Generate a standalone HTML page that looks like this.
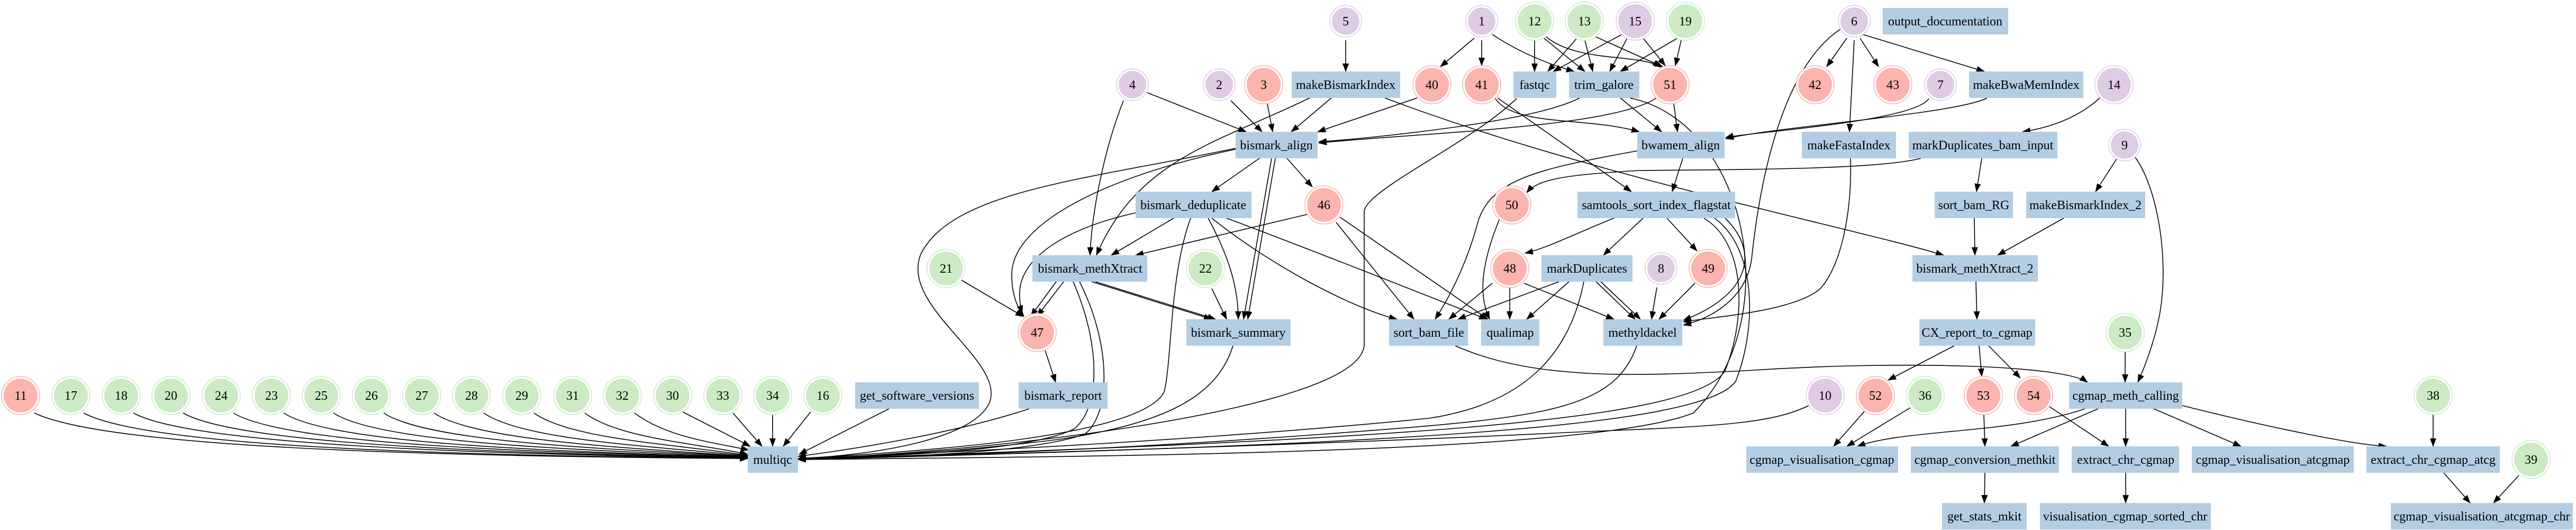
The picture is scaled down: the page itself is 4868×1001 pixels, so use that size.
<!DOCTYPE html>
<html><head><meta charset="utf-8"><style>html,body{margin:0;padding:0;background:#fff}svg{display:block}</style></head>
<body>
<svg width="4868" height="1001" viewBox="0 0 4868 1001" xmlns="http://www.w3.org/2000/svg" font-family="'Liberation Serif', serif" font-size="24">
<defs>
<marker id="a" markerUnits="userSpaceOnUse" markerWidth="16" markerHeight="12" refX="15" refY="6" orient="auto"><path d="M0,0 L16,6 L0,12 z" fill="#000"/></marker>
</defs>
<g fill="none" stroke="#000" stroke-width="1.6" marker-end="url(#a)">
<!-- left circles to multiqc -->
<path d="M65 780 C200 845 800 862 1413 866"/>
<path d="M158 780 C280 845 850 860 1413 866"/>
<path d="M252 780 C360 840 900 858 1413 865"/>
<path d="M346 780 C450 840 950 856 1413 865"/>
<path d="M441 780 C540 840 1000 854 1413 864"/>
<path d="M536 780 C630 840 1050 852 1413 864"/>
<path d="M630 780 C720 838 1100 850 1413 863"/>
<path d="M725 780 C810 836 1150 848 1413 862"/>
<path d="M820 780 C900 834 1200 846 1413 862"/>
<path d="M914 780 C990 832 1230 842 1413 861"/>
<path d="M1009 780 C1080 830 1270 838 1413 860"/>
<path d="M1105 780 C1170 828 1310 836 1413 858"/>
<path d="M1199 780 C1260 826 1350 836 1415 850"/>
<path d="M1290 778 L1418 843"/>
<path d="M1385 780 L1440 843"/>
<path d="M1460 783 L1460 843"/>
<path d="M1532 778 L1480 843"/>
<!-- top -->
<path d="M2543 76 L2543 135"/>
<path d="M2786 72 L2722 126"/>
<path d="M2800 76 L2800 124"/>
<path d="M2820 65 C2880 105 2940 125 2975 135"/>
<path d="M2900 76 L2900 135"/>
<path d="M2915 70 L2995 135"/>
<path d="M2920 68 C2980 120 3100 100 3138 127"/>
<path d="M2980 72 L2925 135"/>
<path d="M2995 76 L3010 135"/>
<path d="M3012 68 L3142 126"/>
<path d="M3065 65 L2935 135"/>
<path d="M3075 72 L3042 135"/>
<path d="M3105 72 L3147 124"/>
<path d="M3170 72 L3062 135"/>
<path d="M3177 76 L3166 124"/>
<path d="M3490 72 L3452 126"/>
<path d="M3515 72 L3550 126"/>
<path d="M3504 76 L3495 249"/>
<path d="M3520 65 L3750 135"/>
<!-- row1 -> row2 -->
<path d="M2168 175 L2355 249"/>
<path d="M2123 190 C2080 300 2062 420 2060 482"/>
<path d="M2326 190 L2385 249"/>
<path d="M2395 196 L2405 249"/>
<path d="M2516 185 L2440 249"/>
<path d="M2475 185 C2300 270 2150 300 2072 482"/>
<path d="M2617 185 C3000 330 3500 430 3673 482"/>
<path d="M2678 185 L2490 249"/>
<path d="M2985 185 C2900 230 2600 260 2492 268"/>
<path d="M3130 185 C3050 240 2700 250 2492 270"/>
<path d="M2825 185 C2860 240 3000 220 3098 249"/>
<path d="M2830 185 L3083 362"/>
<path d="M3062 185 L3140 249"/>
<path d="M3163 196 L3170 249"/>
<path d="M2866 186 C2780 270 2578 360 2578 400 L2578 650 C2578 780 1800 860 1508 866"/>
<path d="M3080 185 C3300 230 3380 600 3200 780 C3000 860 2000 862 1508 868"/>
<path d="M3478 55 C3380 120 3330 300 3310 490 C3300 560 3240 600 3181 614"/>
<path d="M3645 186 C3620 230 3300 250 3261 260"/>
<path d="M3755 185 C3700 215 3350 240 3261 262"/>
<path d="M3968 185 C3930 220 3880 240 3822 249"/>
<path d="M3497 299 C3500 400 3480 500 3440 545 C3390 590 3220 600 3181 608"/>
<path d="M3745 299 L3735 362"/>
<path d="M3630 299 C3550 320 3300 320 3100 322 C2950 330 2905 340 2885 364"/>
<path d="M4000 300 L3960 362"/>
<path d="M4035 297 C4080 360 4100 500 4080 600 C4070 650 4050 700 4040 722"/>
<path d="M3731 412 L3732 482"/>
<path d="M3900 412 L3775 482"/>
<path d="M3734 532 L3736 603"/>
<path d="M3693 653 L3568 718"/>
<path d="M3740 653 L3745 711"/>
<path d="M3758 653 L3818 714"/>
<path d="M4016 664 L4016 722"/>
<path d="M2750 653 C2900 720 3100 710 3300 700 C3600 680 3900 690 3945 722"/>
<!-- bismark side -->
<path d="M2380 299 L2290 362"/>
<path d="M2432 299 L2480 353"/>
<path d="M2403 299 L2350 603"/>
<path d="M2410 299 L2358 603"/>
<path d="M2335 282 C2100 330 1910 420 1912 520 C1912 560 1925 585 1935 597"/>
<path d="M2335 280 C2050 340 1800 360 1740 480 C1700 580 1900 680 1870 760 C1840 830 1650 860 1508 866"/>
<path d="M3180 299 L3160 362"/>
<path d="M3094 285 C2900 320 2810 340 2790 430 C2770 500 2740 560 2712 603"/>
<path d="M2218 412 L2100 482"/>
<path d="M2146 402 C2020 430 1940 480 1928 540 C1925 560 1928 580 1932 592"/>
<path d="M2283 412 C2320 480 2340 540 2340 603"/>
<path d="M2290 412 C2400 500 2550 580 2640 603"/>
<path d="M2318 412 C2500 480 2700 560 2810 603"/>
<path d="M2250 412 C2210 520 2215 680 2200 740 C2160 820 1800 850 1508 866"/>
<path d="M2470 405 L2146 482"/>
<path d="M2525 420 L2672 603"/>
<path d="M2532 410 L2812 603"/>
<path d="M2834 413 C2790 520 2800 570 2815 603"/>
<path d="M3050 412 C2980 440 2920 470 2882 478"/>
<path d="M3105 412 L3030 482"/>
<path d="M3150 412 L3207 474"/>
<path d="M3220 412 C3300 460 3300 600 3260 700 C3200 800 2600 830 1508 868"/>
<path d="M3240 412 C3320 470 3320 620 3280 720 C3220 810 2600 840 1508 868"/>
<path d="M3260 412 C3330 480 3300 560 3181 605"/>
<path d="M1810 525 L1934 598"/>
<path d="M1996 532 L1948 597"/>
<path d="M2010 532 L1960 597"/>
<path d="M2063 532 L2290 603"/>
<path d="M2070 532 L2297 603"/>
<path d="M2028 532 C2080 650 2080 770 2030 810 C1950 850 1700 862 1508 866"/>
<path d="M2040 532 C2100 650 2100 780 2050 820 C1950 855 1700 864 1508 867"/>
<path d="M2290 545 L2318 603"/>
<path d="M2820 535 L2738 603"/>
<path d="M2853 543 L2853 603"/>
<path d="M2880 535 L3050 603"/>
<path d="M2946 532 L2755 603"/>
<path d="M2965 532 L2885 603"/>
<path d="M3016 532 L3090 603"/>
<path d="M3025 532 L3100 603"/>
<path d="M2993 532 C2970 650 2900 760 2700 790 C2300 830 1800 855 1508 866"/>
<path d="M3131 543 L3121 603"/>
<path d="M3203 535 L3135 603"/>
<path d="M1975 662 L1995 722"/>
<path d="M2330 653 C2300 750 2200 800 2000 830 C1800 855 1600 864 1508 866"/>
<path d="M3093 653 C3050 780 2900 790 2500 820 C2100 850 1700 864 1508 867"/>
<path d="M1945 772 C1800 820 1600 850 1508 862"/>
<path d="M1680 772 L1510 858"/>
<path d="M3420 765 C3350 800 3250 805 3000 815 C2500 840 1800 860 1508 868"/>
<!-- cgmap -->
<path d="M3525 775 L3465 843"/>
<path d="M3610 770 L3490 843"/>
<path d="M3749 783 L3751 843"/>
<path d="M3873 768 L3985 843"/>
<path d="M3940 772 C3800 820 3600 810 3510 843"/>
<path d="M3965 772 L3800 843"/>
<path d="M4017 772 L4017 843"/>
<path d="M4070 772 L4235 843"/>
<path d="M4124 766 C4300 810 4450 840 4510 843"/>
<path d="M4598 783 L4598 843"/>
<path d="M3751 893 L3750 950"/>
<path d="M4017 893 L4017 950"/>
<path d="M4618 893 L4668 950"/>
<path d="M4760 898 L4712 950"/>
</g>

<!-- boxes -->
<g fill="#b3cde3">
<rect x="1413" y="843" width="95" height="50"/>
<rect x="3558" y="15" width="237" height="50"/>
<rect x="2441" y="135" width="205" height="50"/>
<rect x="2860" y="135" width="81" height="50"/>
<rect x="2965" y="135" width="133" height="50"/>
<rect x="3721" y="135" width="216" height="50"/>
<rect x="2335" y="249" width="155" height="50"/>
<rect x="3094" y="249" width="165" height="50"/>
<rect x="3405" y="249" width="178" height="50"/>
<rect x="3607" y="249" width="281" height="50"/>
<rect x="2146" y="362" width="219" height="50"/>
<rect x="2981" y="362" width="298" height="50"/>
<rect x="3656" y="362" width="148" height="50"/>
<rect x="3829" y="362" width="225" height="50"/>
<rect x="1951" y="482" width="217" height="50"/>
<rect x="2913" y="482" width="172" height="50"/>
<rect x="3614" y="482" width="237" height="50"/>
<rect x="2242" y="603" width="197" height="50"/>
<rect x="2625" y="603" width="149" height="50"/>
<rect x="2799" y="603" width="110" height="50"/>
<rect x="3030" y="603" width="149" height="50"/>
<rect x="3627" y="603" width="219" height="50"/>
<rect x="1616" y="722" width="234" height="50"/>
<rect x="1925" y="722" width="168" height="50"/>
<rect x="3910" y="722" width="214" height="50"/>
<rect x="3300" y="843" width="287" height="50"/>
<rect x="3611" y="843" width="280" height="50"/>
<rect x="3915" y="843" width="203" height="50"/>
<rect x="4142" y="843" width="306" height="50"/>
<rect x="4472" y="843" width="252" height="50"/>
<rect x="3670" y="950" width="160" height="50"/>
<rect x="3855" y="950" width="323" height="50"/>
<rect x="4518" y="950" width="344" height="50"/>
</g>
<g text-anchor="middle" fill="#000">
<text x="1460" y="876">multiqc</text>
<text x="3676" y="48">output_documentation</text>
<text x="2543" y="168">makeBismarkIndex</text>
<text x="2900" y="168">fastqc</text>
<text x="3031" y="168">trim_galore</text>
<text x="3829" y="168">makeBwaMemIndex</text>
<text x="2412" y="282">bismark_align</text>
<text x="3176" y="282">bwamem_align</text>
<text x="3494" y="282">makeFastaIndex</text>
<text x="3747" y="282">markDuplicates_bam_input</text>
<text x="2255" y="395">bismark_deduplicate</text>
<text x="3130" y="395">samtools_sort_index_flagstat</text>
<text x="3730" y="395">sort_bam_RG</text>
<text x="3941" y="395">makeBismarkIndex_2</text>
<text x="2060" y="515">bismark_methXtract</text>
<text x="2999" y="515">markDuplicates</text>
<text x="3732" y="515">bismark_methXtract_2</text>
<text x="2340" y="636">bismark_summary</text>
<text x="2700" y="636">sort_bam_file</text>
<text x="2854" y="636">qualimap</text>
<text x="3104" y="636">methyldackel</text>
<text x="3736" y="636">CX_report_to_cgmap</text>
<text x="1733" y="755">get_software_versions</text>
<text x="2009" y="755">bismark_report</text>
<text x="4017" y="755">cgmap_meth_calling</text>
<text x="3443" y="876">cgmap_visualisation_cgmap</text>
<text x="3751" y="876">cgmap_conversion_methkit</text>
<text x="4017" y="876">extract_chr_cgmap</text>
<text x="4295" y="876">cgmap_visualisation_atcgmap</text>
<text x="4598" y="876">extract_chr_cgmap_atcg</text>
<text x="3750" y="983">get_stats_mkit</text>
<text x="4016" y="983">visualisation_cgmap_sorted_chr</text>
<text x="4690" y="983">cgmap_visualisation_atcgmap_chr</text>
</g>

<!-- circles -->
<g stroke-width="1.5">
<g fill="#fff" stroke="#fbb4ae">
<circle cx="39" cy="747" r="36"/><circle cx="2388" cy="160" r="36"/><circle cx="2706" cy="160" r="36"/><circle cx="2800" cy="160" r="36"/><circle cx="3156" cy="160" r="36"/><circle cx="3430" cy="160" r="36"/><circle cx="3577" cy="160" r="36"/><circle cx="2502" cy="387" r="36"/><circle cx="2857" cy="387" r="36"/><circle cx="2853" cy="507" r="36"/><circle cx="3228" cy="507" r="36"/><circle cx="1960" cy="628" r="36"/><circle cx="3544" cy="747" r="36"/><circle cx="3748" cy="747" r="36"/><circle cx="3843" cy="747" r="36"/>
</g>
<g fill="#fbb4ae" stroke="none">
<circle cx="39" cy="747" r="32"/><circle cx="2388" cy="160" r="32"/><circle cx="2706" cy="160" r="32"/><circle cx="2800" cy="160" r="32"/><circle cx="3156" cy="160" r="32"/><circle cx="3430" cy="160" r="32"/><circle cx="3577" cy="160" r="32"/><circle cx="2502" cy="387" r="32"/><circle cx="2857" cy="387" r="32"/><circle cx="2853" cy="507" r="32"/><circle cx="3228" cy="507" r="32"/><circle cx="1960" cy="628" r="32"/><circle cx="3544" cy="747" r="32"/><circle cx="3748" cy="747" r="32"/><circle cx="3843" cy="747" r="32"/>
</g>
<g fill="#fff" stroke="#ccebc5">
<circle cx="134" cy="747" r="36"/><circle cx="229" cy="747" r="36"/><circle cx="323" cy="747" r="36"/><circle cx="418" cy="747" r="36"/><circle cx="513" cy="747" r="36"/><circle cx="607" cy="747" r="36"/><circle cx="702" cy="747" r="36"/><circle cx="797" cy="747" r="36"/><circle cx="891" cy="747" r="36"/><circle cx="986" cy="747" r="36"/><circle cx="1082" cy="747" r="36"/><circle cx="1176" cy="747" r="36"/><circle cx="1271" cy="747" r="36"/><circle cx="1366" cy="747" r="36"/><circle cx="1460" cy="747" r="36"/><circle cx="1555" cy="747" r="36"/>
<circle cx="2900" cy="40" r="36"/><circle cx="2994" cy="40" r="36"/><circle cx="3185" cy="40" r="36"/><circle cx="1788" cy="507" r="36"/><circle cx="2278" cy="507" r="36"/><circle cx="4016" cy="628" r="36"/><circle cx="3638" cy="747" r="36"/><circle cx="4598" cy="747" r="36"/><circle cx="4783" cy="868" r="36"/>
</g>
<g fill="#ccebc5" stroke="none">
<circle cx="134" cy="747" r="32"/><circle cx="229" cy="747" r="32"/><circle cx="323" cy="747" r="32"/><circle cx="418" cy="747" r="32"/><circle cx="513" cy="747" r="32"/><circle cx="607" cy="747" r="32"/><circle cx="702" cy="747" r="32"/><circle cx="797" cy="747" r="32"/><circle cx="891" cy="747" r="32"/><circle cx="986" cy="747" r="32"/><circle cx="1082" cy="747" r="32"/><circle cx="1176" cy="747" r="32"/><circle cx="1271" cy="747" r="32"/><circle cx="1366" cy="747" r="32"/><circle cx="1460" cy="747" r="32"/><circle cx="1555" cy="747" r="32"/>
<circle cx="2900" cy="40" r="32"/><circle cx="2994" cy="40" r="32"/><circle cx="3185" cy="40" r="32"/><circle cx="1788" cy="507" r="32"/><circle cx="2278" cy="507" r="32"/><circle cx="4016" cy="628" r="32"/><circle cx="3638" cy="747" r="32"/><circle cx="4598" cy="747" r="32"/><circle cx="4783" cy="868" r="32"/>
</g>
<g fill="#fff" stroke="#decbe4">
<circle cx="2543" cy="40" r="30"/><circle cx="2800" cy="40" r="30"/><circle cx="3090" cy="40" r="36"/><circle cx="3504" cy="40" r="30"/><circle cx="2140" cy="160" r="30"/><circle cx="2304" cy="160" r="30"/><circle cx="3667" cy="160" r="30"/><circle cx="3995" cy="160" r="36"/><circle cx="4015" cy="274" r="30"/><circle cx="3139" cy="507" r="30"/><circle cx="3449" cy="747" r="36"/>
</g>
<g fill="#decbe4" stroke="none">
<circle cx="2543" cy="40" r="26"/><circle cx="2800" cy="40" r="26"/><circle cx="3090" cy="40" r="32"/><circle cx="3504" cy="40" r="26"/><circle cx="2140" cy="160" r="26"/><circle cx="2304" cy="160" r="26"/><circle cx="3667" cy="160" r="26"/><circle cx="3995" cy="160" r="32"/><circle cx="4015" cy="274" r="26"/><circle cx="3139" cy="507" r="26"/><circle cx="3449" cy="747" r="32"/>
</g>
</g>
<g text-anchor="middle" fill="#000">
<text x="39" y="755">11</text><text x="134" y="755">17</text><text x="229" y="755">18</text><text x="323" y="755">20</text><text x="418" y="755">24</text><text x="513" y="755">23</text><text x="607" y="755">25</text><text x="702" y="755">26</text><text x="797" y="755">27</text><text x="891" y="755">28</text><text x="986" y="755">29</text><text x="1082" y="755">31</text><text x="1176" y="755">32</text><text x="1271" y="755">30</text><text x="1366" y="755">33</text><text x="1460" y="755">34</text><text x="1555" y="755">16</text>
<text x="2543" y="48">5</text><text x="2800" y="48">1</text><text x="2900" y="48">12</text><text x="2994" y="48">13</text><text x="3090" y="48">15</text><text x="3185" y="48">19</text><text x="3504" y="48">6</text>
<text x="2140" y="168">4</text><text x="2304" y="168">2</text><text x="2388" y="168">3</text><text x="2706" y="168">40</text><text x="2800" y="168">41</text><text x="3156" y="168">51</text><text x="3430" y="168">42</text><text x="3577" y="168">43</text><text x="3667" y="168">7</text><text x="3995" y="168">14</text>
<text x="4015" y="282">9</text>
<text x="2502" y="395">46</text><text x="2857" y="395">50</text>
<text x="1788" y="515">21</text><text x="2278" y="515">22</text><text x="2853" y="515">48</text><text x="3139" y="515">8</text><text x="3228" y="515">49</text>
<text x="1960" y="636">47</text><text x="4016" y="636">35</text>
<text x="3449" y="755">10</text><text x="3544" y="755">52</text><text x="3638" y="755">36</text><text x="3748" y="755">53</text><text x="3843" y="755">54</text><text x="4598" y="755">38</text>
<text x="4783" y="876">39</text>
</g>
</svg>
</body></html>
